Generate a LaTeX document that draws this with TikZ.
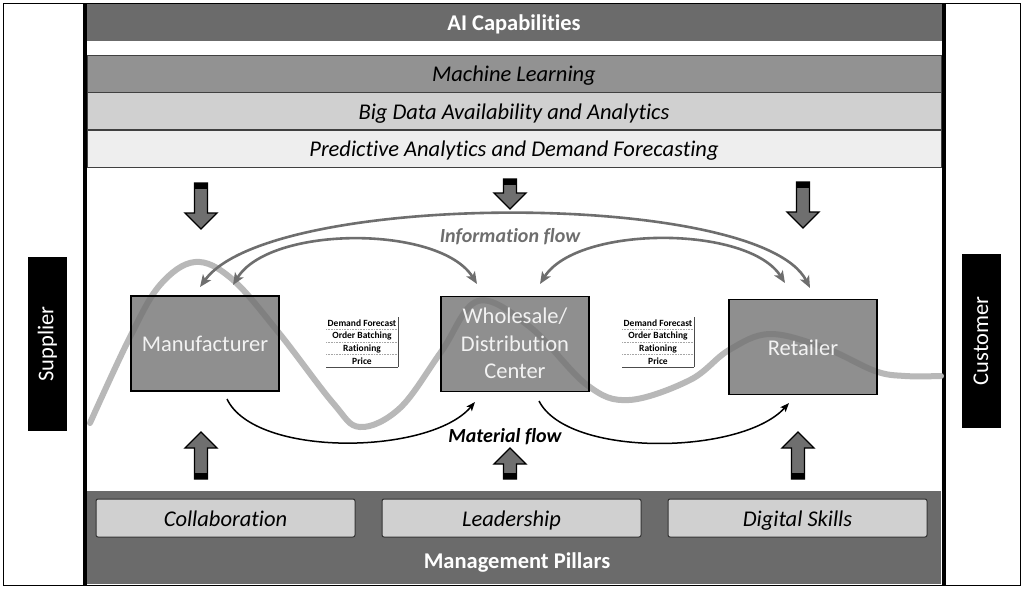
\documentclass[tikz,border=0pt]{standalone}
\usepackage{fontspec}
\setmainfont{Carlito}[Ligatures=NoCommon]
\usetikzlibrary{arrows.meta}
\definecolor{aigray}{HTML}{6B6B6B}
\definecolor{mlgray}{HTML}{929292}
\definecolor{bdgray}{HTML}{D0D0D0}
\definecolor{pagray}{HTML}{EEEEEE}
\definecolor{boxgray}{HTML}{737373}
\definecolor{wavegray}{HTML}{B8B8B8}
\definecolor{infogray}{HTML}{6E6E6E}
\definecolor{blkgray}{HTML}{6F6F6F}
\definecolor{lbltext}{HTML}{F2F2F2}
\newcommand\blkdown[3]{%
  \draw[blkarrow] (#1-6.5,#2) -- (#1+6.5,#2) -- (#1+6.5,#3-16) -- (#1+16,#3-16) -- (#1,#3) -- (#1-16,#3-16) -- (#1-6.5,#3-16) -- cycle;
  \fill[black] (#1-7,#2) rectangle (#1+7,#2+6);}
\newcommand\blkup[3]{%
  \draw[blkarrow] (#1-6.5,#3) -- (#1+6.5,#3) -- (#1+6.5,#2+16) -- (#1+16,#2+16) -- (#1,#2) -- (#1-16,#2+16) -- (#1-6.5,#2+16) -- cycle;
  \fill[black] (#1-7,#3) rectangle (#1+7,#3-6);}
\begin{document}
\begin{tikzpicture}[x=1pt,y=-1pt,
  bigfont/.style={font=\fontsize{22.5}{27}\selectfont},
  bar/.style={draw=black!75, line width=0.8, minimum width=854, minimum height=37, inner sep=0pt},
  lbl/.style={anchor=base, inner sep=0pt, font=\fontsize{22.5}{27}\selectfont},
  ilbl/.style={anchor=base, inner sep=0pt, font=\fontsize{22.5}{27}\selectfont\itshape},
  blbl/.style={anchor=base, inner sep=0pt, text=white, font=\fontsize{22.5}{27}\selectfont\bfseries},
  pillar/.style={draw=black!80, line width=1, fill=bdgray, rounded corners=2, minimum width=259, minimum height=38, inner sep=0pt},
  side/.style={fill=black, text=white, rotate=90, minimum width=174, minimum height=39, inner sep=0pt, bigfont},
  actor/.style={draw=black, line width=1.2, fill=boxgray, fill opacity=0.8, minimum width=148, minimum height=95, inner sep=0pt},
  alabel/.style={anchor=base, inner sep=0pt, text=lbltext, font=\fontsize{22.5}{27}\selectfont},
  blkarrow/.style={draw=black, line width=1.3, fill=blkgray, line join=miter},
  infoarr/.style={draw=infogray, line width=2.6, {Stealth[length=12pt,width=10pt,inset=3pt]}-{Stealth[length=12pt,width=10pt,inset=3pt]}},
  matarr/.style={draw=black, line width=1.5, -{Stealth[length=9pt,width=7pt,inset=2pt]}},
  tabtext/.style={font=\fontsize{9.5}{10}\selectfont\bfseries, inner sep=0pt},
  tabsep/.style={draw=black!35, densely dotted, line width=0.6},
  tabline/.style={draw=black!70, line width=0.9},
  flowlbl/.style={anchor=base, font=\fontsize{20}{24}\selectfont\bfseries\itshape, inner sep=0pt}
]
\useasboundingbox (0,0) rectangle (1024,589);
\fill[white] (0,0) rectangle (1024,589);
% outer frame
\draw[line width=1] (3,3) rectangle (1020,585);
% top bars
\node[bar, fill=aigray, draw=aigray, minimum height=36] (ai) at (514,22) {};
\node[blbl] (ait) at (514,30) {AI Capabilities};
\node[bar, fill=mlgray] (ml) at (514,73.5) {};
\node[ilbl] (mlt) at (514,81.5) {Machine Learning};
\node[bar, fill=bdgray] (bd) at (514,111) {};
\node[ilbl] (bdt) at (514,119) {Big Data Availability and Analytics};
\node[bar, fill=pagray] (pa) at (514,148.5) {};
\node[ilbl] (pat) at (514,156) {Predictive Analytics and Demand Forecasting};
% bottom bar
\fill[aigray] (87,491) rectangle (941,584);
\node[pillar] (col) at (225.5,518) {};
\node[ilbl] (colt) at (225.5,526) {Collaboration};
\node[pillar] (lea) at (511.5,518) {};
\node[ilbl] (leat) at (511.5,526) {Leadership};
\node[pillar] (dig) at (797.5,518) {};
\node[ilbl] (digt) at (797.5,526) {Digital Skills};
\node[blbl] (mp) at (517,568) {Management Pillars};
% thick verticals
\draw[line width=4] (85,3) -- (85,585);
\draw[line width=4] (943.5,3) -- (943.5,585);
% supplier / customer
\node[side] (sup) at (47.5,344) {Supplier};
\node[side] (cus) at (981,341) {Customer};
% wave
\draw[wavegray, line width=6, line cap=round] plot[smooth, tension=0.6] coordinates {
 (90,423) (130,337) (160,285) (195,262) (232,279) (279,333) (333,403) (360,427) (400,408) (441,352) (478,301) (530,327) (587,385) (629,400) (690,380) (729,350) (770,334) (825,348) (875,371) (905,376) (941,376)};
% actor boxes
\node[actor] (man) at (205,343.5) {};
\node[alabel] (mant) at (205,351) {Manufacturer};
\node[actor] (whs) at (515,344) {};
\node[alabel] (whst1) at (515,323) {Wholesale/};
\node[alabel] (whst2) at (515,351) {Distribution};
\node[alabel] (whst3) at (515,378) {Center};
\node[actor] (ret) at (803,347) {};
\node[alabel] (rett) at (803,355) {Retailer};
% block arrows
\blkdown{201}{183}{229}
\blkdown{510}{179}{209}
\blkdown{803}{182}{228}
\blkup{201}{432}{479}
\blkup{510}{448}{479}
\blkup{798}{432}{479}
% information flow
\coordinate (mA) at (200,287);
\coordinate (mB) at (233,285);
\coordinate (wA) at (477,284);
\coordinate (wB) at (540,284);
\coordinate (rA) at (785,283);
\coordinate (rB) at (810,288);
\draw[infoarr] (mA) .. controls (270,190) and (760,190) .. (rB);
\draw[infoarr] (mB) .. controls (270,225) and (440,225) .. (wA);
\draw[infoarr] (wB) .. controls (577,225) and (748,225) .. (rA);
\node[flowlbl, text=infogray] (info) at (510,242) {Information flow};
% material flow
\coordinate (mC) at (227,399);
\coordinate (wC) at (475,402);
\coordinate (wD) at (539,401);
\coordinate (rC) at (789,403);
\draw[matarr] (mC) .. controls (255,458) and (430,455) .. (wC);
\draw[matarr] (wD) .. controls (568,458) and (742,455) .. (rC);
\node[flowlbl] (mat) at (505,442) {Material flow};
% tables
\node[tabtext] (t1a) at (362,323) {Demand Forecast};
\node[tabtext] (t1b) at (362,336) {Order Batching};
\node[tabtext] (t1c) at (362,348.5) {Rationing};
\node[tabtext] (t1d) at (362,361) {Price};
\draw[tabsep] (326,329.5) -- (398,329.5);
\draw[tabsep] (326,342) -- (398,342);
\draw[tabsep] (326,354.5) -- (398,354.5);
\draw[tabline] (326,367) -- (398,367);
\draw[tabline] (398,317) -- (398,367);
\node[tabtext] (t2a) at (658,323) {Demand Forecast};
\node[tabtext] (t2b) at (658,336) {Order Batching};
\node[tabtext] (t2c) at (658,348.5) {Rationing};
\node[tabtext] (t2d) at (658,361) {Price};
\draw[tabsep] (622,329.5) -- (694,329.5);
\draw[tabsep] (622,342) -- (694,342);
\draw[tabsep] (622,354.5) -- (694,354.5);
\draw[tabline] (622,367) -- (694,367);
\draw[tabline] (694,317) -- (694,367);
\end{tikzpicture}
\end{document}
